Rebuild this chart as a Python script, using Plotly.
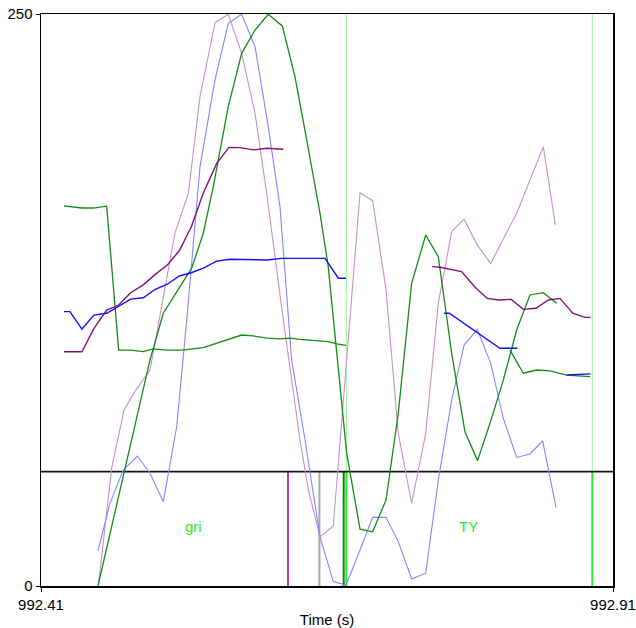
import plotly.graph_objects as go

# ---- data (time in s, value) ----
green_low_t = [992.4301, 992.4353, 992.4458, 992.4555, 992.4674, 992.4779, 992.4884, 992.4994,
               992.5083, 992.5201, 992.5330, 992.5519, 992.5665, 992.5854, 992.5956, 992.6073,
               992.6189, 992.6277, 992.6364, 992.6510, 992.6611, 992.6685, 992.6766,
               None,
               992.8200, 992.8316, 992.8433, 992.8549, 992.8695, 992.8899]
green_low_v = [166.1, 165.8, 165.2, 165.2, 166.0, 103.1, 103.1, 102.4,
               103.6, 103.1, 103.1, 104.2, 106.6, 109.7, 109.3, 108.3,
               108.0, 108.3, 107.8, 107.2, 106.8, 105.8, 105.2,
               None,
               103.1, 93.0, 94.4, 94.0, 92.2, 91.5]

green_wave_t = [992.4598, 992.5053, 992.5169, 992.5298, 992.5417, 992.5519, 992.5606, 992.5737,
                992.5854, 992.5971, 992.6087, 992.6209, 992.6320, 992.6423, 992.6539, 992.6611,
                992.6685, 992.6772, 992.6889, 992.6999, 992.7116, 992.7223, 992.7340, 992.7463,
                992.7573, 992.7690, 992.7806, 992.7916, 992.8025, 992.8141, 992.8258, 992.8374,
                992.8491, 992.8608]
green_wave_v = [0.0, 98.8, 119.2, 129.4, 138.9, 154.2, 174.5, 209.5,
                232.8, 243.0, 249.9, 244.8, 222.6, 194.9, 162.9, 139.6,
                101.7, 58.0, 24.8, 23.7, 37.6, 75.5, 132.3, 153.4,
                143.9, 101.7, 67.4, 54.8, 71.1, 90.0, 111.9, 127.2,
                128.2, 123.6]

lblue_t = [992.4598, 992.4703, 992.4819, 992.4942, 992.5053, 992.5169, 992.5286, 992.5374,
           992.5490, 992.5621, 992.5737, 992.5854, 992.5971, 992.6087, 992.6189, 992.6262,
           992.6291, 992.6408, 992.6539, 992.6655, 992.6766, 992.6889, 992.6999, 992.7116,
           992.7223, 992.7340, 992.7463, 992.7573, 992.7690, 992.7798, 992.7914, 992.8031,
           992.8141, 992.8258, 992.8374, 992.8485, 992.8602]
lblue_v = [15.4, 36.1, 50.7, 56.8, 49.3, 36.8, 69.6, 116.3,
           183.3, 221.2, 245.9, 249.9, 235.7, 200.7, 165.8, 116.3,
           98.8, 63.8, 21.5, 1.9, 0.4, 15.7, 30.0, 30.0,
           19.4, 3.1, 5.6, 46.3, 81.3, 105.3, 112.2, 97.3,
           73.3, 56.2, 57.7, 63.4, 34.4]

lpurple_t = [992.4601, 992.4718, 992.4826, 992.4930, 992.5053, 992.5271, 992.5388, 992.5490,
             992.5621, 992.5737, 992.5854, 992.5971, 992.6073, 992.6218, 992.6364, 992.6437,
             992.6539, 992.6655, 992.6889, 992.6999, 992.7116, 992.7223, 992.7340, 992.7463,
             992.7573, 992.7690, 992.7798, 992.7914, 992.8031, 992.8147, 992.8264, 992.8374,
             992.8491, 992.8596]
lpurple_v = [0.0, 51.6, 76.9, 85.7, 94.4, 154.2, 171.6, 213.9,
             246.2, 249.9, 232.8, 206.6, 171.6, 116.3, 63.8, 42.0,
             21.5, 26.2, 171.9, 168.4, 129.4, 66.7, 36.1, 66.7,
             123.6, 154.9, 160.3, 149.0, 141.0, 152.0, 163.6, 177.4,
             192.0, 157.8]

blue_t = [992.4301, 992.4353, 992.4458, 992.4563, 992.4674, 992.4779, 992.4884, 992.4994,
          992.5099, 992.5204, 992.5309, 992.5414, 992.5519, 992.5636, 992.5752, 992.6073,
          992.6204, 992.6583, 992.6699, 992.6766,
          None,
          992.7623, 992.7669, 992.8112, 992.8264,
          None,
          992.8695, 992.8902]
blue_v = [119.9, 119.9, 112.3, 118.4, 119.2, 122.4, 125.4, 126.0,
          129.7, 131.9, 135.5, 136.9, 138.9, 142.0, 142.8, 142.5,
          143.2, 143.2, 134.5, 134.5,
          None,
          119.2, 119.2, 103.9, 103.9,
          None,
          92.2, 92.7]

purple_t = [992.4301, 992.4458, 992.4563, 992.4674, 992.4779, 992.4884, 992.4994, 992.5099,
            992.5204, 992.5309, 992.5414, 992.5519, 992.5636, 992.5743, 992.5840, 992.5962,
            992.6073, 992.6218,
            None,
            992.7520, 992.7588, 992.7777, 992.7894, 992.8001, 992.8103, 992.8208, 992.8316,
            992.8427, 992.8535, 992.8637, 992.8748, 992.8855, 992.8905]
purple_v = [102.4, 102.4, 112.6, 120.6, 122.8, 128.2, 131.6, 136.2,
            140.3, 146.5, 157.0, 171.8, 184.7, 191.7, 191.6, 190.6,
            191.3, 190.9,
            None,
            139.6, 139.3, 137.4, 130.6, 125.7, 125.0, 125.3, 120.9,
            121.4, 125.0, 125.7, 119.2, 117.4, 117.4]

# tier boundaries (time) and interval labels
tier_floor = 0
tier_top = 50
boundary_times = [992.6259, 992.6534, 992.6746, 992.6769, 992.8919]
full_height_times = [992.6769, 992.8919]
label_texts = ["gri", "TY"]
label_times = [992.5430, 992.7840]
label_value = 25.8

x_range = [992.41, 992.91]
y_range = [0, 250]
x_tick_vals = [992.41, 992.91]
x_tick_text = ["992.41", "992.91"]
y_tick_vals = [0, 250]
y_tick_text = ["0", "250"]

# ---- figure ----
fig = go.Figure()

boundary_colors = ["#a040a0", "#a8a8a8", "#108010", "#22ee22", "#22ee22"]
for bt, col in zip(boundary_times, boundary_colors):
    fig.add_trace(go.Scatter(x=[bt, bt], y=[tier_floor, tier_top], mode="lines",
                             line=dict(color=col, width=2), hoverinfo="skip"))
for bt in full_height_times:
    fig.add_trace(go.Scatter(x=[bt, bt], y=[tier_top, y_range[1]], mode="lines",
                             line=dict(color="#9cf59c", width=1), hoverinfo="skip"))

# tier separator
fig.add_trace(go.Scatter(x=x_range, y=[tier_top, tier_top], mode="lines",
                         line=dict(color="#1a101a", width=1.6), hoverinfo="skip"))

series = [
    (lpurple_t, lpurple_v, "#cc8fcc", 1.1),
    (lblue_t, lblue_v, "#8585ff", 1.1),
    (green_low_t, green_low_v, "#148a14", 1.3),
    (green_wave_t, green_wave_v, "#148a14", 1.3),
    (blue_t, blue_v, "#1010ff", 1.4),
    (purple_t, purple_v, "#801080", 1.4),
]
for t, v, col, w in series:
    fig.add_trace(go.Scatter(x=t, y=v, mode="lines", connectgaps=False,
                             line=dict(color=col, width=w), hoverinfo="skip"))

for txt, lt in zip(label_texts, label_times):
    fig.add_annotation(x=lt, y=label_value, text=txt, showarrow=False,
                       font=dict(color="#22ee22", size=15, family="Liberation Sans, Arial"))

fig.update_layout(
    width=636, height=628,
    margin=dict(l=41, r=23, t=14, b=42),
    paper_bgcolor="white", plot_bgcolor="white",
    showlegend=False,
    font=dict(family="Liberation Sans, Arial", size=15, color="black"),
    xaxis=dict(range=x_range, showgrid=False, zeroline=False, showline=True, mirror=True,
               automargin=False, ticklabeloverflow="allow",
               linecolor="black", linewidth=1.5, ticks="outside", ticklen=4, tickcolor="black",
               tickvals=x_tick_vals, ticktext=x_tick_text,
               title=dict(text="Time (s)", standoff=3, font=dict(size=15))),
    yaxis=dict(range=y_range, showgrid=False, zeroline=False, showline=True, mirror=True,
               automargin=False, ticklabeloverflow="allow",
               linecolor="black", linewidth=1.5, ticks="outside", ticklen=4, tickcolor="black",
               tickvals=y_tick_vals, ticktext=y_tick_text),
)

# remove the default page margin so the figure fills the window exactly
fig.write_html("out.html",
               config={"displayModeBar": False, "staticPlot": True},
               post_script="document.body.style.margin='0';document.body.style.overflow='hidden';")
